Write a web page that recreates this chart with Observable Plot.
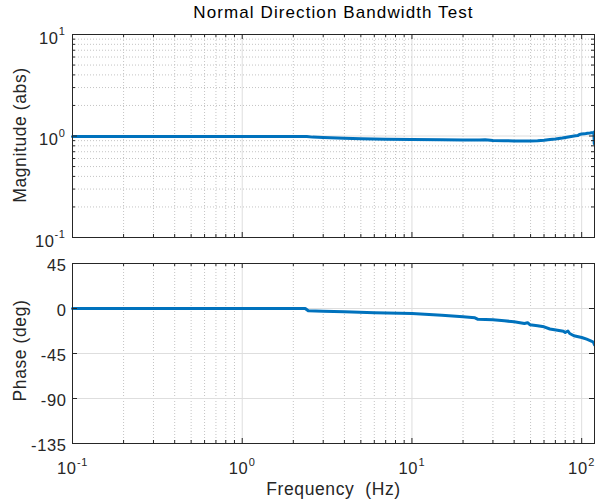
<!DOCTYPE html>
<html><head><meta charset="utf-8">
<script src="https://cdn.jsdelivr.net/npm/d3@7"></script>
<script src="https://cdn.jsdelivr.net/npm/@observablehq/plot@0.6"></script>
<style>
body{margin:0;background:#fff}
#wrap{position:relative;width:595px;height:499px;overflow:hidden;background:#fff}
#wrap svg{position:absolute;left:0;font-family:"Liberation Sans",Arial,sans-serif}
#wrap svg text{white-space:pre;letter-spacing:0.6px}
#wrap g[aria-description="title"] text{letter-spacing:1.1px}
</style></head><body><div id="wrap"></div>
<script>
// ---- data ----
const titleText = "Normal Direction Bandwidth Test";
const magLabel = "Magnitude (abs)";
const phaseLabel = "Phase (deg)";
const xLabel = "Frequency  (Hz)";

const freqMag = [0.1, 0.5, 1, 2, 2.4, 2.6, 3, 4, 5, 7, 10, 15, 20, 25, 27, 30, 35, 40, 45, 50, 55, 60, 65, 70, 77, 85, 92, 95, 97, 100, 104, 108, 112, 115, 117, 118, 118.6];
const magnitude = [0.99, 0.99, 0.99, 0.99, 0.99, 0.975, 0.965, 0.95, 0.94, 0.93, 0.925, 0.92, 0.915, 0.912, 0.918, 0.905, 0.9, 0.895, 0.893, 0.895, 0.9, 0.91, 0.925, 0.935, 0.955, 0.985, 1.005, 1.01, 1.035, 1.045, 1.05, 1.065, 1.07, 1.08, 1.075, 1.09, 0.84];

const freqPhase = [0.1, 1, 2.35, 2.45, 3, 4, 6, 10, 15, 20, 23.5, 24.5, 30, 35, 40, 46, 48, 49.5, 55, 60, 65, 72, 78, 80, 83, 85, 90, 100, 107, 113, 117, 119];
const phase = [0, 0, 0, -2.3, -2.8, -3.3, -4.2, -5, -6.7, -8.3, -9.3, -10.8, -11.3, -12.3, -13.3, -15, -14.2, -16.2, -17.2, -18.3, -20.5, -21.7, -22.8, -24, -22.5, -25, -27.3, -29, -30.7, -32.3, -33.5, -36.3];

const xDomain = [0.1, 119];
const xDecades = [0.1, 1, 10, 100];
const xExponents = ["-1", "0", "1", "2"];
const magDomain = [0.1, 10];
const magDecades = [0.1, 1, 10];
const magExponents = ["-1", "0", "1"];
const phaseDomain = [-135, 45];
const phaseTicks = [45, 0, -45, -90, -135];
const phaseGrid = [0, -45, -90];

// ---- helpers ----
const W = 595, ML = 72, MR = 1;
const PW = W - ML - MR;
const axisColor = "#262626";
const lineColor = "#0072BD";
const minorGridColor = "#c4c4c4";
const majorGridColor = "#dedede";

const xMinor = [];
for (const d of xDecades) for (let k = 2; k <= 9; k++) { const v = +(d * k).toPrecision(3); if (v <= xDomain[1]) xMinor.push(v); }
const magMinor = [];
for (const d of magDecades.slice(0, 2)) for (let k = 2; k <= 9; k++) magMinor.push(+(d * k).toPrecision(3));

const magData = freqMag.map((f, i) => ({f, v: magnitude[i]}));
const phaseData = freqPhase.map((f, i) => ({f, v: phase[i]}));

function xGrid() {
  return [
    Plot.ruleX(xMinor, {stroke: minorGridColor, strokeDasharray: "1,2"}),
    Plot.ruleX(xDecades.slice(1), {stroke: majorGridColor})
  ];
}
function xTicks(H) {
  return [
    Plot.ruleX(xDecades, {insetTop: H - 5, stroke: axisColor}),
    Plot.ruleX(xDecades, {insetBottom: H - 5, stroke: axisColor}),
    Plot.ruleX(xMinor, {insetTop: H - 3, stroke: axisColor}),
    Plot.ruleX(xMinor, {insetBottom: H - 3, stroke: axisColor})
  ];
}
function yTicks(vals, len) {
  return [
    Plot.ruleY(vals, {insetRight: PW - len, stroke: axisColor}),
    Plot.ruleY(vals, {insetLeft: PW - len, stroke: axisColor})
  ];
}
const singleExp = (arr, ex) => arr.filter((d, i) => ex[i].length === 1);
const doubleExp = (arr, ex) => arr.filter((d, i) => ex[i].length !== 1);

// ---- top: magnitude ----
const topH = 250, topMT = 34, topMB = 13;
const topPH = topH - topMT - topMB;

const magPlot = Plot.plot({
  width: W, height: topH,
  marginLeft: ML, marginRight: MR, marginTop: topMT, marginBottom: topMB,
  x: {type: "log", domain: xDomain, axis: null},
  y: {type: "log", domain: magDomain, axis: null},
  style: {background: "transparent", color: axisColor, fontSize: "16px"},
  marks: [
    ...xGrid(),
    Plot.ruleY(magMinor, {stroke: minorGridColor, strokeDasharray: "1,2"}),
    Plot.ruleY([1], {stroke: majorGridColor}),
    Plot.line(magData, {x: "f", y: "v", stroke: lineColor, strokeWidth: 3}),
    ...xTicks(topPH),
    ...yTicks(magDecades, 5),
    ...yTicks(magMinor, 3),
    Plot.frame({stroke: axisColor}),
    Plot.text(singleExp(magDecades, magExponents), {y: d => d, text: () => "10", frameAnchor: "left", textAnchor: "end", lineAnchor: "bottom", dx: -14, dy: 9, fontSize: 16.5, fill: axisColor}),
    Plot.text(doubleExp(magDecades, magExponents), {y: d => d, text: () => "10", frameAnchor: "left", textAnchor: "end", lineAnchor: "bottom", dx: -18, dy: 9, fontSize: 16.5, fill: axisColor}),
    Plot.text(magDecades, {y: d => d, text: (d, i) => magExponents[i], frameAnchor: "left", textAnchor: "end", lineAnchor: "bottom", dx: -7, dy: 0.5, fontSize: 11, fill: axisColor}),
    Plot.text([titleText], {frameAnchor: "top", lineAnchor: "bottom", dy: -17, fontSize: 17, fill: "#000", ariaDescription: "title"}),
    Plot.text([magLabel], {frameAnchor: "left", rotate: -90, textAnchor: "middle", lineAnchor: "bottom", dx: -47, dy: -1, fontSize: 17.5, fill: axisColor})
  ]
});
magPlot.style.top = "0px";

// ---- bottom: phase ----
const botH = 249, botMT = 13, botMB = 56;
const botPH = botH - botMT - botMB;

const phasePlot = Plot.plot({
  width: W, height: botH,
  marginLeft: ML, marginRight: MR, marginTop: botMT, marginBottom: botMB,
  x: {type: "log", domain: xDomain, axis: null},
  y: {type: "linear", domain: phaseDomain, axis: null},
  style: {background: "transparent", color: axisColor, fontSize: "16px"},
  marks: [
    ...xGrid(),
    Plot.ruleY(phaseGrid, {stroke: majorGridColor}),
    Plot.line(phaseData, {x: "f", y: "v", stroke: lineColor, strokeWidth: 3}),
    ...xTicks(botPH),
    ...yTicks(phaseTicks, 5),
    Plot.frame({stroke: axisColor}),
    Plot.text(phaseTicks, {y: d => d, text: d => String(d), frameAnchor: "left", textAnchor: "end", lineAnchor: "bottom", dx: -6, dy: 7, fontSize: 16.5, fill: axisColor}),
    Plot.text(singleExp(xDecades, xExponents), {x: d => d, text: () => "10", frameAnchor: "bottom", textAnchor: "end", lineAnchor: "bottom", dx: 6, dy: 30, fontSize: 16.5, fill: axisColor}),
    Plot.text(doubleExp(xDecades, xExponents), {x: d => d, text: () => "10", frameAnchor: "bottom", textAnchor: "end", lineAnchor: "bottom", dx: 4, dy: 30, fontSize: 16.5, fill: axisColor}),
    Plot.text(singleExp(xDecades, xExponents), {x: d => d, text: d => xExponents[xDecades.indexOf(d)], frameAnchor: "bottom", textAnchor: "start", lineAnchor: "bottom", dx: 6.5, dy: 22, fontSize: 11, fill: axisColor}),
    Plot.text(doubleExp(xDecades, xExponents), {x: d => d, text: d => xExponents[xDecades.indexOf(d)], frameAnchor: "bottom", textAnchor: "start", lineAnchor: "bottom", dx: 4.5, dy: 22, fontSize: 11, fill: axisColor}),
    Plot.text([phaseLabel], {frameAnchor: "left", rotate: -90, textAnchor: "middle", lineAnchor: "bottom", dx: -47, dy: -3, fontSize: 17.5, fill: axisColor}),
    Plot.text([xLabel], {frameAnchor: "bottom", textAnchor: "middle", lineAnchor: "bottom", dy: 51, fontSize: 17.5, fill: axisColor})
  ]
});
phasePlot.style.top = "250px";

const wrap = document.getElementById("wrap");
wrap.appendChild(magPlot);
wrap.appendChild(phasePlot);
</script>
</body></html>
